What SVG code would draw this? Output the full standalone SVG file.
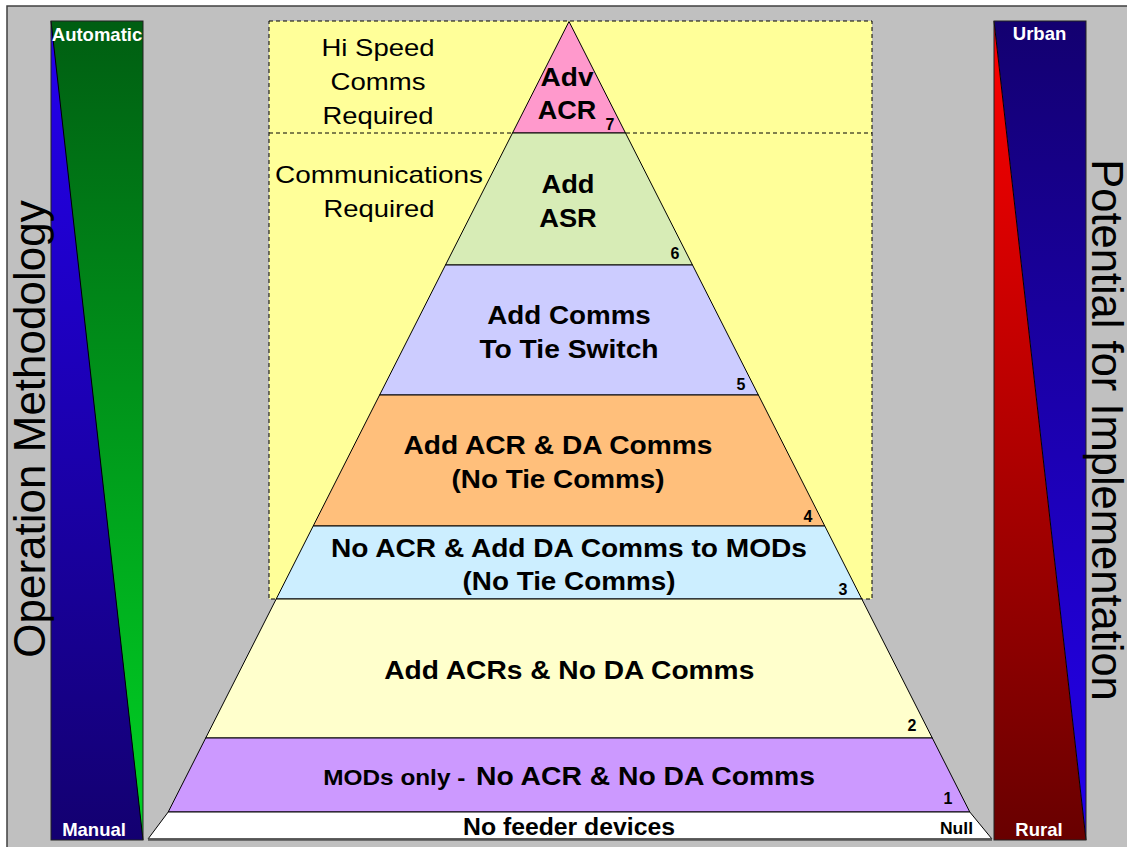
<svg xmlns="http://www.w3.org/2000/svg" width="1127" height="847" viewBox="0 0 1127 847">
<style>
.b{font-family:"Liberation Sans",Arial,sans-serif;font-weight:bold;fill:#000;text-anchor:middle}
.r{font-family:"Liberation Sans",Arial,sans-serif;fill:#000;text-anchor:middle}
.w{font-family:"Liberation Sans",Arial,sans-serif;font-weight:bold;fill:#fff;text-anchor:middle;font-size:18.5px}
.band{stroke:#000;stroke-width:1}
.num{font-family:"Liberation Sans",Arial,sans-serif;font-weight:bold;fill:#000;text-anchor:middle;font-size:16px}
.big{font-size:25.5px}
.reg{font-size:24px}
</style>
<defs>
<linearGradient id="gBlueL" x1="0" y1="0" x2="0" y2="1"><stop offset="0" stop-color="#2400f0"/><stop offset="1" stop-color="#130070"/></linearGradient>
<linearGradient id="gGreen" x1="0" y1="0" x2="0" y2="1"><stop offset="0" stop-color="#005e12"/><stop offset="1" stop-color="#00d424"/></linearGradient>
<linearGradient id="gRed" x1="0" y1="0" x2="0" y2="1"><stop offset="0" stop-color="#ff0000"/><stop offset="1" stop-color="#680000"/></linearGradient>
<linearGradient id="gBlueR" x1="0" y1="0" x2="0" y2="1"><stop offset="0" stop-color="#130070"/><stop offset="1" stop-color="#2400f0"/></linearGradient>
</defs>
<rect x="7" y="6" width="1130" height="850" fill="#c0c0c0" stroke="#404040" stroke-width="1.5"/>

<g id="left-scale">
<rect x="51" y="21" width="92" height="819" fill="#130070"/>
<polygon points="51,21 143,21 143,840" fill="url(#gGreen)"/>
<polygon points="51,21 51,840 143,840" fill="url(#gBlueL)"/>
<line x1="51" y1="21" x2="143" y2="840" stroke="#000" stroke-width="1"/>
<rect x="51" y="21" width="92" height="819" fill="none" stroke="#222" stroke-width="1"/>
<text class="w" x="97" y="40.5">Automatic</text>
<text class="w" x="94" y="835.5">Manual</text>
</g>

<g id="right-scale">
<polygon points="994,21 1086,21 1086,840" fill="url(#gBlueR)"/>
<polygon points="994,21 994,840 1086,840" fill="url(#gRed)"/>
<line x1="994" y1="21" x2="1086" y2="840" stroke="#000" stroke-width="1"/>
<rect x="994" y="21" width="92" height="819" fill="none" stroke="#222" stroke-width="1"/>
<text class="w" x="1039.5" y="40">Urban</text>
<text class="w" x="1039" y="835.5">Rural</text>
</g>

<g id="axis-labels">
<text class="r" font-size="44" transform="translate(45,429) rotate(-90)">Operation Methodology</text>
<text class="r" font-size="43.5" transform="translate(1092,430) rotate(90)">Potential for Implementation</text>
</g>

<g id="comms-zone">
<rect x="269" y="21" width="603" height="578" fill="#ffff99" stroke="#000" stroke-width="1" stroke-dasharray="4,3"/>
<line x1="269" y1="133" x2="872" y2="133" stroke="#000" stroke-width="1" stroke-dasharray="4,3"/>
<text class="r reg" x="378" y="55.5" textLength="113" lengthAdjust="spacingAndGlyphs">Hi Speed</text>
<text class="r reg" x="378" y="90" textLength="95" lengthAdjust="spacingAndGlyphs">Comms</text>
<text class="r reg" x="378" y="123.5" textLength="111" lengthAdjust="spacingAndGlyphs">Required</text>
<text class="r reg" x="379" y="183.3" textLength="208" lengthAdjust="spacingAndGlyphs">Communications</text>
<text class="r reg" x="379" y="216.7" textLength="111" lengthAdjust="spacingAndGlyphs">Required</text>
</g>

<g id="level-7">
<polygon class="band" points="569,21.5 625.5,133 512.5,133" fill="#ff99cc"/>
<text class="b big" x="567" y="86" textLength="53" lengthAdjust="spacingAndGlyphs">Adv</text>
<text class="b big" x="567" y="119.3" textLength="58.5" lengthAdjust="spacingAndGlyphs">ACR</text>
<text class="num" x="610" y="130">7</text>
</g>

<g id="level-6">
<polygon class="band" points="512.5,133 625.5,133 692.5,265 445.5,265" fill="#d7ecb6"/>
<text class="b big" x="568" y="193.3" textLength="53" lengthAdjust="spacingAndGlyphs">Add</text>
<text class="b big" x="568" y="226.7" textLength="57.5" lengthAdjust="spacingAndGlyphs">ASR</text>
<text class="num" x="675" y="258.5">6</text>
</g>

<g id="level-5">
<polygon class="band" points="445.5,265 692.5,265 758.4,395 379.6,395" fill="#ccccff"/>
<text class="b big" x="569" y="324" textLength="163.7" lengthAdjust="spacingAndGlyphs">Add Comms</text>
<text class="b big" x="569" y="357.5" textLength="179.2" lengthAdjust="spacingAndGlyphs">To Tie Switch</text>
<text class="num" x="741" y="389.5">5</text>
</g>

<g id="level-4">
<polygon class="band" points="379.6,395 758.4,395 824.8,526 313.2,526" fill="#ffbf7b"/>
<text class="b big" x="558" y="454" textLength="309" lengthAdjust="spacingAndGlyphs">Add ACR &amp; DA Comms</text>
<text class="b big" x="558" y="487.5" textLength="213" lengthAdjust="spacingAndGlyphs">(No Tie Comms)</text>
<text class="num" x="808" y="521.5">4</text>
</g>

<g id="level-3">
<polygon class="band" points="313.2,526 824.8,526 861.8,599 276.2,599" fill="#cceeff"/>
<text class="b big" x="569" y="557" textLength="476" lengthAdjust="spacingAndGlyphs">No ACR &amp; Add DA Comms to MODs</text>
<text class="b big" x="569" y="590" textLength="213" lengthAdjust="spacingAndGlyphs">(No Tie Comms)</text>
<text class="num" x="843" y="594.5">3</text>
</g>

<g id="level-2">
<polygon class="band" points="276.2,599 861.8,599 932.3,738 205.7,738" fill="#ffffcc"/>
<text class="b big" x="569.3" y="679.3" textLength="370" lengthAdjust="spacingAndGlyphs">Add ACRs &amp; No DA Comms</text>
<text class="num" x="912" y="731">2</text>
</g>

<g id="level-1">
<polygon class="band" points="205.7,738 932.3,738 969.8,812 168.2,812" fill="#cc99ff"/>
<text class="b" font-size="22" x="323.3" y="785" style="text-anchor:start" textLength="142" lengthAdjust="spacingAndGlyphs">MODs only -</text>
<text class="b big" x="476" y="785" style="text-anchor:start" textLength="339" lengthAdjust="spacingAndGlyphs">No ACR &amp; No DA Comms</text>
<text class="num" x="948" y="803.5">1</text>
</g>

<g id="level-null">
<polygon class="band" points="168.2,812 969.8,812 992,839 148,839" fill="#ffffff"/>
<line x1="148" y1="839.5" x2="992" y2="839.5" stroke="#555" stroke-width="2.5"/>
<text class="b" font-size="23" x="569" y="834.5" textLength="212" lengthAdjust="spacingAndGlyphs">No feeder devices</text>
<text class="b" font-size="16" x="973" y="834" style="text-anchor:end" textLength="33" lengthAdjust="spacingAndGlyphs">Null</text>
</g>
</svg>
